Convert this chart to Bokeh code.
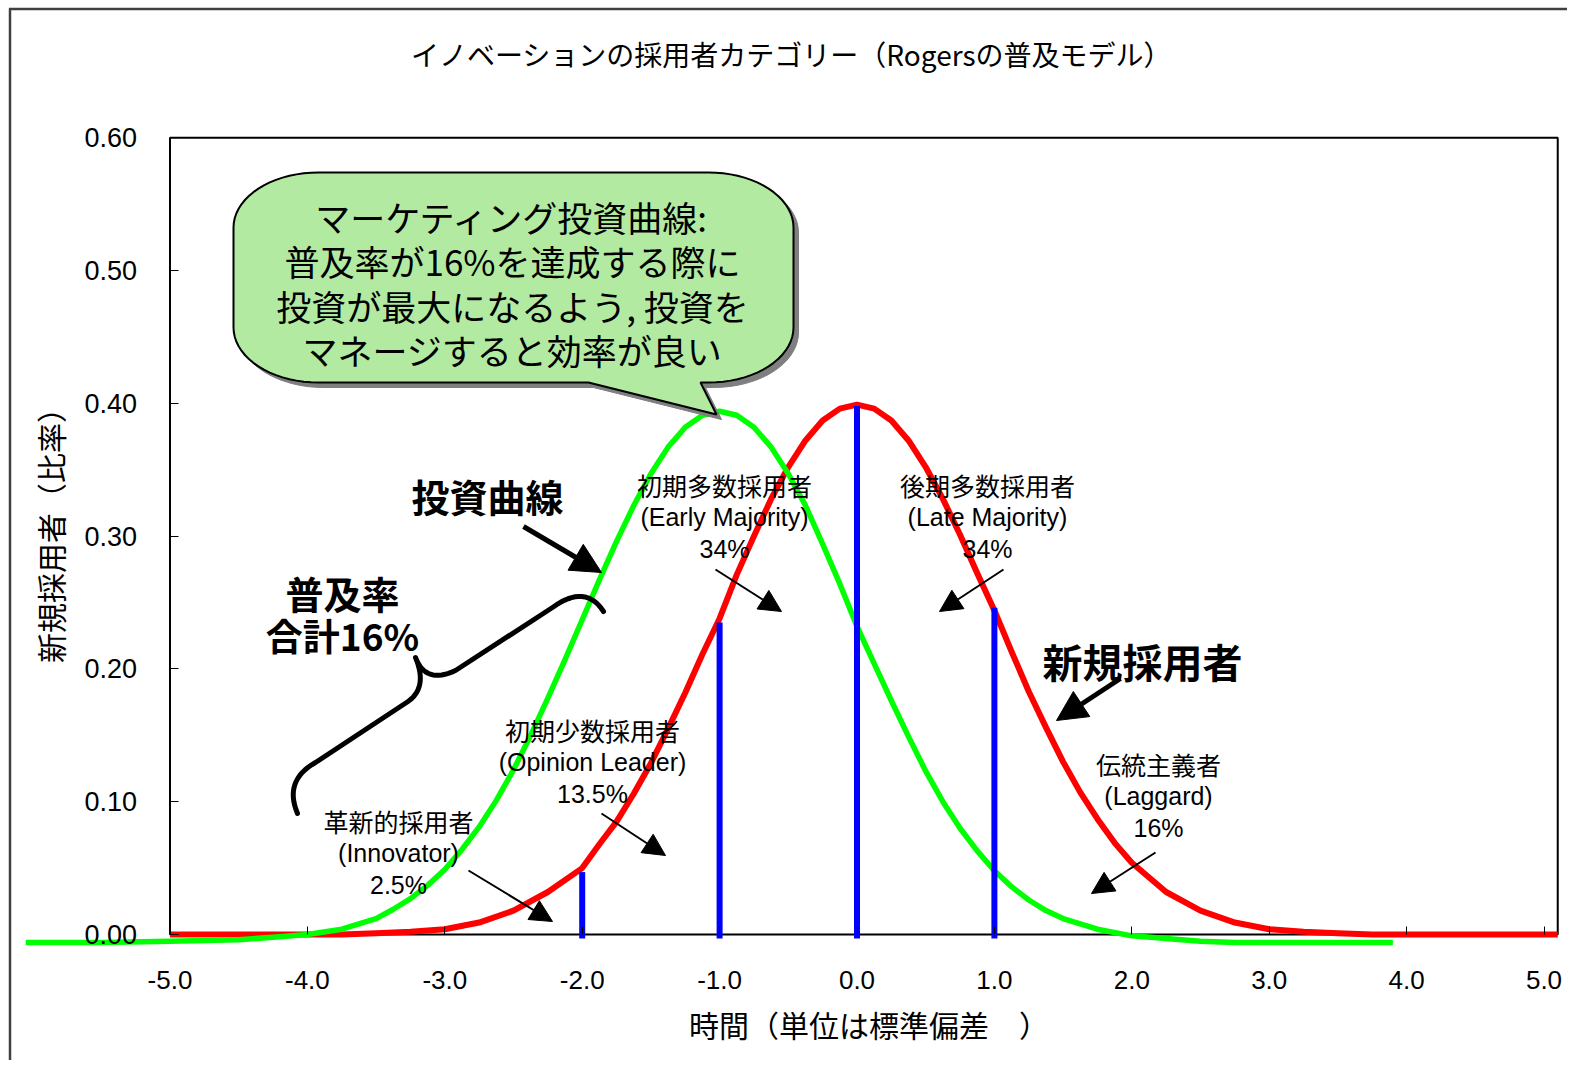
from bokeh.plotting import figure
from bokeh.models import (LinearAxis, FixedTicker, PrintfTickFormatter, Label,
                          Arrow, NormalHead, Range1d)
from bokeh.embed import file_html
from bokeh.resources import INLINE
import math

# ---------------- data ----------------
red_x = [-5.0, -4.75, -4.5, -4.25, -4.0, -3.75, -3.5, -3.25, -3.0, -2.75,
         -2.5, -2.25, -2.0, -1.875, -1.75, -1.625, -1.5, -1.375, -1.25, -1.125,
         -1.0, -0.875, -0.75, -0.625, -0.5, -0.375, -0.25, -0.125, 0.0, 0.125,
         0.25, 0.375, 0.5, 0.625, 0.75, 0.875, 1.0, 1.125, 1.25, 1.375,
         1.5, 1.625, 1.75, 1.875, 2.0, 2.25, 2.5, 2.75, 3.0, 3.25,
         3.5, 3.75, 4.0, 4.5, 5.0, 5.1]
red_y = [0.000, 0.000, 0.000, 0.000, 0.000, 0.000, 0.001, 0.002, 0.004, 0.009,
         0.018, 0.032, 0.050, 0.068, 0.085, 0.106, 0.129, 0.155, 0.182, 0.211,
         0.238, 0.271, 0.300, 0.328, 0.352, 0.372, 0.387, 0.396, 0.399, 0.396,
         0.387, 0.372, 0.352, 0.328, 0.301, 0.272, 0.244, 0.213, 0.183, 0.156,
         0.130, 0.107, 0.087, 0.069, 0.054, 0.032, 0.018, 0.009, 0.004, 0.002,
         0.001, 0.000, 0.000, 0.000, 0.000, 0.000]

green_x = [-6.05, -5.5, -5.0, -4.5, -4.25, -4.0, -3.75, -3.5, -3.375, -3.25,
           -3.125, -3.0, -2.875, -2.75, -2.625, -2.5, -2.375, -2.25, -2.125, -2.0,
           -1.875, -1.75, -1.625, -1.5, -1.375, -1.25, -1.125, -1.0, -0.875, -0.75,
           -0.625, -0.5, -0.375, -0.25, -0.125, 0.0, 0.125, 0.25, 0.375, 0.5,
           0.625, 0.75, 0.875, 1.0, 1.125, 1.25, 1.375, 1.5, 1.75, 2.0,
           2.25, 2.5, 2.75, 3.0, 3.5, 3.9]
green_y = [-0.006, -0.006, -0.005, -0.004, -0.002, 0.000, 0.004, 0.012, 0.019, 0.027,
           0.037, 0.049, 0.064, 0.081, 0.101, 0.124, 0.150, 0.178, 0.207, 0.237,
           0.267, 0.296, 0.323, 0.347, 0.367, 0.382, 0.391, 0.394, 0.391, 0.382,
           0.367, 0.347, 0.323, 0.294, 0.264, 0.232, 0.204, 0.176, 0.149, 0.123,
           0.100, 0.080, 0.063, 0.048, 0.036, 0.026, 0.018, 0.012, 0.004, -0.001,
           -0.003, -0.005, -0.006, -0.006, -0.006, -0.006]

blue_x = [-2.0, -1.0, 0.0, 1.0]
blue_top = [0.047, 0.235, 0.398, 0.246]
blue_base = [-0.003, -0.003, -0.003, -0.003]

x_ticks = [-5, -4, -3, -2, -1, 0, 1, 2, 3, 4, 5]
y_ticks = [0.0, 0.1, 0.2, 0.3, 0.4, 0.5, 0.6]

cat_names = ["革新的採用者", "初期少数採用者", "初期多数採用者", "後期多数採用者", "伝統主義者"]
cat_en = ["(Innovator)", "(Opinion Leader)", "(Early Majority)", "(Late Majority)", "(Laggard)"]
cat_share = ["2.5%", "13.5%", "34%", "34%", "16%"]

title_text = "イノベーションの採用者カテゴリー（Rogersの普及モデル）"
x_label = "時間（単位は標準偏差　）"
y_label = "新規採用者（比率）"
callout_lines = ["マーケティング投資曲線:", "普及率が16%を達成する際に",
                 "投資が最大になるよう, 投資を", "マネージすると効率が良い"]

# ---------------- geometry (page pixels of the reference) ----------------
W, H = 1567, 1060
ORG = 0  # page position of the canvas origin
X0_PX, X_UNIT = 856.5, 137.4
Y0_PX, Y_UNIT = 934.0, 1328.0


def dx(px):
    return (px - X0_PX) / X_UNIT


def dy(py):
    return (Y0_PX - py) / Y_UNIT


JP = "Noto Sans CJK JP"
LAT = "Liberation Sans"

p = figure(width=W, height=H, output_backend="svg", toolbar_location=None,
           x_axis_type=None, y_axis_type=None,
           x_range=Range1d(dx(ORG), dx(ORG + W)), y_range=Range1d(dy(ORG + H), dy(ORG)),
           min_border=0, min_border_left=0, min_border_right=0,
           min_border_top=0, min_border_bottom=0)
p.outline_line_color = None
p.background_fill_color = "white"
p.border_fill_color = "white"
p.xgrid.visible = False
p.ygrid.visible = False

# outer frame (left / top) of the chart area
p.line([dx(9.5), dx(9.5)], [dy(8), dy(ORG + H)], line_color="#404040", line_width=2.5)
p.line([dx(8.5), dx(ORG + W)], [dy(8.5), dy(8.5)], line_color="#404040", line_width=2.5)

# axes
xaxis = LinearAxis(fixed_location=0, bounds=(-5, 5.2),
                   ticker=FixedTicker(ticks=x_ticks),
                   formatter=PrintfTickFormatter(format="%.1f"),
                   axis_label=x_label)
xaxis.axis_line_color = None
xaxis.major_tick_in = 8
xaxis.major_tick_out = 0
xaxis.minor_tick_line_color = None
xaxis.major_tick_line_color = "black"
xaxis.major_label_standoff = 36
xaxis.major_label_text_font = LAT
xaxis.major_label_text_font_size = "26px"
xaxis.major_label_text_color = "black"
xaxis.axis_label_text_font = JP
xaxis.axis_label_text_font_size = "30px"
xaxis.axis_label_text_font_style = "normal"
xaxis.axis_label_text_color = "black"
xaxis.axis_label_standoff = 10
p.add_layout(xaxis, "below")

yaxis = LinearAxis(fixed_location=-5, bounds=(0, 0.612),
                   ticker=FixedTicker(ticks=y_ticks),
                   formatter=PrintfTickFormatter(format="%.2f"),
                   axis_label=y_label)
yaxis.axis_line_color = None
yaxis.major_tick_in = 8
yaxis.major_tick_out = 0
yaxis.minor_tick_line_color = None
yaxis.major_tick_line_color = "black"
yaxis.major_label_standoff = 33
yaxis.major_label_text_font = LAT
yaxis.major_label_text_font_size = "27px"
yaxis.major_label_text_color = "black"
yaxis.axis_label_text_font = JP
yaxis.axis_label_text_font_size = "30px"
yaxis.axis_label_text_font_style = "normal"
yaxis.axis_label_text_color = "black"
yaxis.axis_label_standoff = 10
p.add_layout(yaxis, "left")

# plot box
p.quad(left=[-5.0], right=[5.1], bottom=[0.0], top=[0.6],
       fill_color=None, line_color="black", line_width=2)

# curves
p.line(red_x, red_y, line_color="#ff0000", line_width=6, line_join="round")
p.line(green_x, green_y, line_color="#00ff00", line_width=5.5, line_join="round")
p.segment(x0=blue_x, y0=blue_base, x1=blue_x, y1=blue_top,
          line_color="#0000ff", line_width=6)

# title
p.add_layout(Label(x=dx(791), y=dy(53), text=title_text, text_align="center",
                   text_baseline="middle", text_font=JP, text_font_size="28px",
                   text_color="black"))

# callout balloon
L, R, T, B = 233, 793, 172, 382
rx, ry = 85, 55


def arc(cx, cy, a0, a1, n=18):
    pts = []
    for i in range(n + 1):
        a = a0 + (a1 - a0) * i / n
        pts.append((cx + rx * math.cos(a), cy + ry * math.sin(a)))
    return pts


path = []
path += arc(R - rx, T + ry, -math.pi / 2, 0)
path += arc(R - rx, B - ry, 0, math.pi / 2)
path += [(700, B), (716, 414), (588, B)]
path += arc(L + rx, B - ry, math.pi / 2, math.pi)
path += arc(L + rx, T + ry, math.pi, 1.5 * math.pi)

sh = 5
p.patch([dx(a + sh) for a, b in path], [dy(b + sh) for a, b in path],
        fill_color="#7f7f7f", line_color="#7f7f7f", line_width=1)
p.patch([dx(a) for a, b in path], [dy(b) for a, b in path],
        fill_color="#b3eaa2", line_color="black", line_width=2)

for i, t in enumerate(callout_lines):
    p.add_layout(Label(x=dx(512), y=dy(216 + 44.3 * i), text=t, text_align="center",
                       text_baseline="middle", text_font=JP, text_font_size="35px",
                       text_color="black"))

# bold annotations
bold = [("投資曲線", 487, 495, "38px"), ("普及率", 342, 592, "38px"),
        ("合計16%", 342, 634, "37px"), ("新規採用者", 1142, 660, "40px")]
for t, x, y, fs in bold:
    p.add_layout(Label(x=dx(x), y=dy(y), text=t, text_align="center",
                       text_baseline="middle", text_font=JP, text_font_size=fs,
                       text_font_style="bold", text_color="black"))


# brace
def quad(p0, c, p1, n=16):
    pts = []
    for i in range(n + 1):
        t = i / n
        x = (1 - t) ** 2 * p0[0] + 2 * (1 - t) * t * c[0] + t ** 2 * p1[0]
        y = (1 - t) ** 2 * p0[1] + 2 * (1 - t) * t * c[1] + t ** 2 * p1[1]
        pts.append((x, y))
    return pts


brace = []
brace += quad((297, 813), (283, 780), (315, 762))
brace += [(406, 702)]
brace += quad((406, 702), (428, 688), (415, 657))
brace += quad((415, 657), (425, 684), (455, 670))
brace += [(552, 607)]
brace += quad((552, 607), (585, 583), (603, 611))
p.line([dx(a) for a, b in brace], [dy(b) for a, b in brace],
       line_color="black", line_width=5, line_join="round", line_cap="round")

# arrows
arrows = [((523, 526), (601, 572), 5, 30), ((1120, 678), (1056, 720), 5, 30),
          ((468, 870), (552, 921), 2, 22), ((601, 813), (665, 855), 2, 22),
          ((715, 569), (781, 611), 2, 22), ((1003, 569), (939, 611), 2, 22),
          ((1155, 852), (1091, 893), 2, 22)]
for (x0, y0), (x1, y1), lw, hs in arrows:
    p.add_layout(Arrow(end=NormalHead(size=hs, fill_color="black", line_color="black",
                                      line_width=1),
                       x_start=dx(x0), y_start=dy(y0), x_end=dx(x1), y_end=dy(y1),
                       line_color="black", line_width=lw))

# category labels
cat_pos = [(398, 820), (592, 729), (724, 484), (987, 484), (1158, 763)]
for (cx, cy), n, e, s in zip(cat_pos, cat_names, cat_en, cat_share):
    for k, (t, f) in enumerate([(n, JP), (e, LAT), (s, LAT)]):
        p.add_layout(Label(x=dx(cx), y=dy(cy + 32.3 * k), text=t, text_align="center",
                           text_baseline="middle", text_font=f, text_font_size="25px",
                           text_color="black"))

open("out.html", "w").write(file_html(p, INLINE))
